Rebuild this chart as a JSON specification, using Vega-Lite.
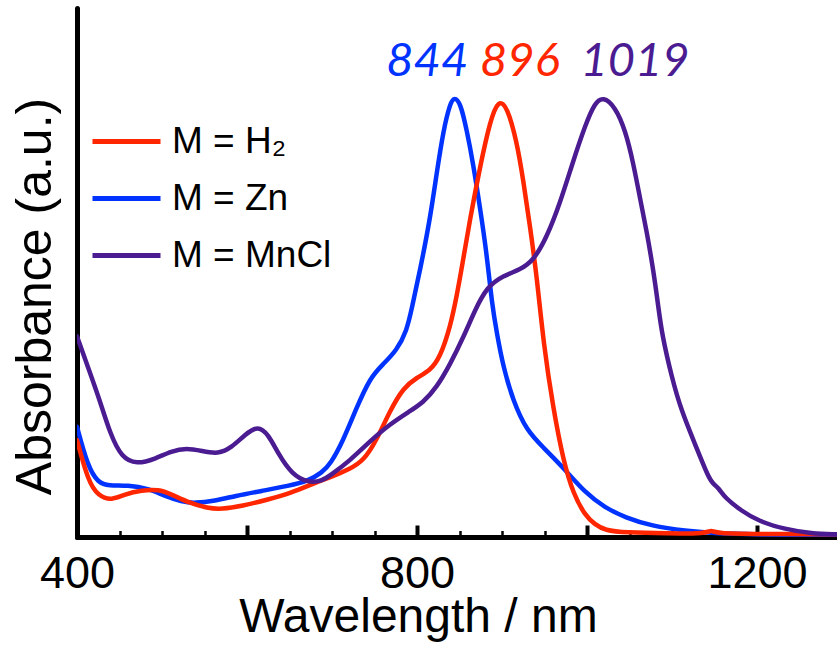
{
  "$schema": "https://vega.github.io/schema/vega-lite/v6.json",
  "width": 760,
  "height": 529,
  "autosize": "none",
  "padding": {"left": 77, "top": 8, "right": 0, "bottom": 108},
  "background": "white",
  "config": {
    "view": {"stroke": null},
    "font": "Liberation Sans"
  },
  "datasets": {
    "spectra": [
      {"series": "M = Zn", "nm": 400, "A": 0.25},
      {"series": "M = Zn", "nm": 413, "A": 0.158},
      {"series": "M = Zn", "nm": 425, "A": 0.123},
      {"series": "M = Zn", "nm": 437, "A": 0.116},
      {"series": "M = Zn", "nm": 460, "A": 0.1175},
      {"series": "M = Zn", "nm": 484, "A": 0.11},
      {"series": "M = Zn", "nm": 503, "A": 0.093},
      {"series": "M = Zn", "nm": 523, "A": 0.08},
      {"series": "M = Zn", "nm": 539, "A": 0.0765},
      {"series": "M = Zn", "nm": 562, "A": 0.082},
      {"series": "M = Zn", "nm": 586, "A": 0.093},
      {"series": "M = Zn", "nm": 617, "A": 0.1045},
      {"series": "M = Zn", "nm": 649, "A": 0.116},
      {"series": "M = Zn", "nm": 672, "A": 0.127},
      {"series": "M = Zn", "nm": 688, "A": 0.146},
      {"series": "M = Zn", "nm": 698, "A": 0.165},
      {"series": "M = Zn", "nm": 713, "A": 0.218},
      {"series": "M = Zn", "nm": 729, "A": 0.294},
      {"series": "M = Zn", "nm": 745, "A": 0.362},
      {"series": "M = Zn", "nm": 760, "A": 0.392},
      {"series": "M = Zn", "nm": 776, "A": 0.423},
      {"series": "M = Zn", "nm": 788, "A": 0.468},
      {"series": "M = Zn", "nm": 794, "A": 0.52},
      {"series": "M = Zn", "nm": 803.5, "A": 0.605},
      {"series": "M = Zn", "nm": 815, "A": 0.718},
      {"series": "M = Zn", "nm": 823, "A": 0.824},
      {"series": "M = Zn", "nm": 831, "A": 0.923},
      {"series": "M = Zn", "nm": 839, "A": 0.985},
      {"series": "M = Zn", "nm": 844, "A": 0.998},
      {"series": "M = Zn", "nm": 851, "A": 0.985},
      {"series": "M = Zn", "nm": 858.5, "A": 0.923},
      {"series": "M = Zn", "nm": 866, "A": 0.847},
      {"series": "M = Zn", "nm": 874, "A": 0.748},
      {"series": "M = Zn", "nm": 882, "A": 0.642},
      {"series": "M = Zn", "nm": 888, "A": 0.53},
      {"series": "M = Zn", "nm": 894, "A": 0.461},
      {"series": "M = Zn", "nm": 901.5, "A": 0.385},
      {"series": "M = Zn", "nm": 913, "A": 0.309},
      {"series": "M = Zn", "nm": 929, "A": 0.241},
      {"series": "M = Zn", "nm": 948.6, "A": 0.203},
      {"series": "M = Zn", "nm": 972, "A": 0.1575},
      {"series": "M = Zn", "nm": 998, "A": 0.1},
      {"series": "M = Zn", "nm": 1021, "A": 0.0667},
      {"series": "M = Zn", "nm": 1045, "A": 0.044},
      {"series": "M = Zn", "nm": 1076, "A": 0.025},
      {"series": "M = Zn", "nm": 1115, "A": 0.0136},
      {"series": "M = Zn", "nm": 1154, "A": 0.0076},
      {"series": "M = Zn", "nm": 1194, "A": 0.006},
      {"series": "M = Zn", "nm": 1294, "A": 0.004},

      {"series": "M = H₂", "nm": 400, "A": 0.22},
      {"series": "M = H₂", "nm": 413, "A": 0.127},
      {"series": "M = H₂", "nm": 425, "A": 0.093},
      {"series": "M = H₂", "nm": 441, "A": 0.083},
      {"series": "M = H₂", "nm": 456, "A": 0.097},
      {"series": "M = H₂", "nm": 476, "A": 0.106},
      {"series": "M = H₂", "nm": 496, "A": 0.108},
      {"series": "M = H₂", "nm": 511, "A": 0.097},
      {"series": "M = H₂", "nm": 531, "A": 0.078},
      {"series": "M = H₂", "nm": 554, "A": 0.065},
      {"series": "M = H₂", "nm": 570, "A": 0.063},
      {"series": "M = H₂", "nm": 594, "A": 0.07},
      {"series": "M = H₂", "nm": 625, "A": 0.085},
      {"series": "M = H₂", "nm": 652, "A": 0.1},
      {"series": "M = H₂", "nm": 680, "A": 0.123},
      {"series": "M = H₂", "nm": 698, "A": 0.135},
      {"series": "M = H₂", "nm": 721, "A": 0.154},
      {"series": "M = H₂", "nm": 737, "A": 0.173},
      {"series": "M = H₂", "nm": 752, "A": 0.218},
      {"series": "M = H₂", "nm": 768, "A": 0.286},
      {"series": "M = H₂", "nm": 784, "A": 0.339},
      {"series": "M = H₂", "nm": 800, "A": 0.362},
      {"series": "M = H₂", "nm": 815, "A": 0.377},
      {"series": "M = H₂", "nm": 827, "A": 0.407},
      {"series": "M = H₂", "nm": 839, "A": 0.476},
      {"series": "M = H₂", "nm": 847, "A": 0.55},
      {"series": "M = H₂", "nm": 853, "A": 0.615},
      {"series": "M = H₂", "nm": 862, "A": 0.718},
      {"series": "M = H₂", "nm": 874, "A": 0.839},
      {"series": "M = H₂", "nm": 886, "A": 0.945},
      {"series": "M = H₂", "nm": 896, "A": 0.993},
      {"series": "M = H₂", "nm": 906, "A": 0.976},
      {"series": "M = H₂", "nm": 917, "A": 0.9},
      {"series": "M = H₂", "nm": 925, "A": 0.809},
      {"series": "M = H₂", "nm": 933, "A": 0.703},
      {"series": "M = H₂", "nm": 941, "A": 0.589},
      {"series": "M = H₂", "nm": 949, "A": 0.435},
      {"series": "M = H₂", "nm": 960, "A": 0.294},
      {"series": "M = H₂", "nm": 972, "A": 0.173},
      {"series": "M = H₂", "nm": 984, "A": 0.097},
      {"series": "M = H₂", "nm": 998, "A": 0.048},
      {"series": "M = H₂", "nm": 1009, "A": 0.029},
      {"series": "M = H₂", "nm": 1021, "A": 0.015},
      {"series": "M = H₂", "nm": 1045, "A": 0.01},
      {"series": "M = H₂", "nm": 1095, "A": 0.008},
      {"series": "M = H₂", "nm": 1140, "A": 0.008},
      {"series": "M = H₂", "nm": 1146, "A": 0.016},
      {"series": "M = H₂", "nm": 1152, "A": 0.008},
      {"series": "M = H₂", "nm": 1200, "A": 0.007},
      {"series": "M = H₂", "nm": 1294, "A": 0.006},

      {"series": "M = MnCl", "nm": 400, "A": 0.455},
      {"series": "M = MnCl", "nm": 413, "A": 0.385},
      {"series": "M = MnCl", "nm": 427, "A": 0.309},
      {"series": "M = MnCl", "nm": 439, "A": 0.234},
      {"series": "M = MnCl", "nm": 452.5, "A": 0.18},
      {"series": "M = MnCl", "nm": 470, "A": 0.165},
      {"series": "M = MnCl", "nm": 492, "A": 0.177},
      {"series": "M = MnCl", "nm": 511, "A": 0.195},
      {"series": "M = MnCl", "nm": 529, "A": 0.2016},
      {"series": "M = MnCl", "nm": 547, "A": 0.195},
      {"series": "M = MnCl", "nm": 566, "A": 0.188},
      {"series": "M = MnCl", "nm": 582, "A": 0.203},
      {"series": "M = MnCl", "nm": 598, "A": 0.233},
      {"series": "M = MnCl", "nm": 613, "A": 0.253},
      {"series": "M = MnCl", "nm": 625, "A": 0.233},
      {"series": "M = MnCl", "nm": 637, "A": 0.188},
      {"series": "M = MnCl", "nm": 652.6, "A": 0.1425},
      {"series": "M = MnCl", "nm": 672, "A": 0.123},
      {"series": "M = MnCl", "nm": 688, "A": 0.127},
      {"series": "M = MnCl", "nm": 698, "A": 0.14},
      {"series": "M = MnCl", "nm": 721, "A": 0.173},
      {"series": "M = MnCl", "nm": 745, "A": 0.218},
      {"series": "M = MnCl", "nm": 768, "A": 0.256},
      {"series": "M = MnCl", "nm": 792, "A": 0.286},
      {"series": "M = MnCl", "nm": 807, "A": 0.305},
      {"series": "M = MnCl", "nm": 823, "A": 0.339},
      {"series": "M = MnCl", "nm": 839, "A": 0.392},
      {"series": "M = MnCl", "nm": 854.5, "A": 0.453},
      {"series": "M = MnCl", "nm": 868, "A": 0.514},
      {"series": "M = MnCl", "nm": 882, "A": 0.567},
      {"series": "M = MnCl", "nm": 901.5, "A": 0.593},
      {"series": "M = MnCl", "nm": 921, "A": 0.606},
      {"series": "M = MnCl", "nm": 937, "A": 0.627},
      {"series": "M = MnCl", "nm": 952.6, "A": 0.68},
      {"series": "M = MnCl", "nm": 968, "A": 0.756},
      {"series": "M = MnCl", "nm": 984, "A": 0.855},
      {"series": "M = MnCl", "nm": 998, "A": 0.935},
      {"series": "M = MnCl", "nm": 1009, "A": 0.985},
      {"series": "M = MnCl", "nm": 1019, "A": 0.999},
      {"series": "M = MnCl", "nm": 1033, "A": 0.976},
      {"series": "M = MnCl", "nm": 1045, "A": 0.923},
      {"series": "M = MnCl", "nm": 1054.5, "A": 0.847},
      {"series": "M = MnCl", "nm": 1062, "A": 0.771},
      {"series": "M = MnCl", "nm": 1070, "A": 0.695},
      {"series": "M = MnCl", "nm": 1078, "A": 0.605},
      {"series": "M = MnCl", "nm": 1084, "A": 0.52},
      {"series": "M = MnCl", "nm": 1088, "A": 0.461},
      {"series": "M = MnCl", "nm": 1099.6, "A": 0.362},
      {"series": "M = MnCl", "nm": 1111, "A": 0.286},
      {"series": "M = MnCl", "nm": 1127, "A": 0.211},
      {"series": "M = MnCl", "nm": 1142.7, "A": 0.135},
      {"series": "M = MnCl", "nm": 1148.6, "A": 0.12},
      {"series": "M = MnCl", "nm": 1154.5, "A": 0.112},
      {"series": "M = MnCl", "nm": 1162, "A": 0.089},
      {"series": "M = MnCl", "nm": 1182, "A": 0.059},
      {"series": "M = MnCl", "nm": 1201.5, "A": 0.036},
      {"series": "M = MnCl", "nm": 1233, "A": 0.0175},
      {"series": "M = MnCl", "nm": 1264, "A": 0.0076},
      {"series": "M = MnCl", "nm": 1294, "A": 0.006}
    ],
    "peaks": [
      {"series": "M = Zn", "label": "844", "nm": 812, "A": 1.046},
      {"series": "M = H₂", "label": "896", "nm": 921, "A": 1.046},
      {"series": "M = MnCl", "label": "1019", "nm": 1056.5, "A": 1.046}
    ]
  },
  "layer": [
    {
      "data": {"name": "spectra"},
      "mark": {"type": "line", "strokeWidth": 4.5, "interpolate": "basis", "clip": true, "strokeCap": "round"},
      "encoding": {
        "x": {
          "field": "nm", "type": "quantitative",
          "scale": {"domain": [400, 1294], "nice": false, "zero": false},
          "axis": {
            "values": [400, 450, 500, 550, 600, 650, 700, 750, 800, 850, 900, 950, 1000, 1050, 1100, 1150, 1200, 1250],
            "format": "d",
            "title": "Wavelength / nm",
            "titleFontSize": 48,
            "titleFont": "Liberation Sans",
            "titleFontWeight": "normal",
            "titleColor": "black",
            "titleX": 341,
            "titleY": 94,
            "titleAlign": "center",
            "titleBaseline": "alphabetic",
            "labelExpr": "datum.value % 400 === 0 ? datum.label : ''",
            "labelFontSize": 45,
            "labelFont": "Liberation Sans",
            "labelColor": "black",
            "labelBaseline": "alphabetic",
            "labelPadding": 62,
            "labelOverlap": false,
            "labelFlush": false,
            "grid": false,
            "domainColor": "black",
            "domainWidth": 5,
            "domainCap": "round",
            "tickColor": "black",
            "tickSize": {"condition": {"test": "datum.value % 200 === 0", "value": -12}, "value": -6.5},
            "tickWidth": {"condition": {"test": "datum.value % 200 === 0", "value": 4}, "value": 2.5}
          }
        },
        "y": {
          "field": "A", "type": "quantitative",
          "scale": {"domain": [0, 1.2], "nice": false},
          "axis": {
            "title": "Absorbance (a.u.)",
            "titleFontSize": 50,
            "titleFont": "Liberation Sans",
            "titleFontWeight": "normal",
            "titleColor": "black",
            "titleAngle": -90,
            "titleX": -27,
            "titleY": 288,
            "titleAlign": "center",
            "titleBaseline": "alphabetic",
            "labels": false,
            "ticks": false,
            "grid": false,
            "domainColor": "black",
            "domainWidth": 5,
            "domainCap": "round"
          }
        },
        "color": {
          "field": "series", "type": "nominal",
          "scale": {"domain": ["M = H₂", "M = Zn", "M = MnCl"], "range": ["#ff2600", "#0033ff", "#4b1c91"]},
          "legend": {
            "title": null,
            "orient": "none",
            "legendX": 13,
            "legendY": 97,
            "padding": 0,
            "symbolType": "stroke",
            "symbolSize": 4624,
            "symbolStrokeWidth": 5,
            "symbolOpacity": 1,
            "labelFontSize": 37,
            "labelFont": "Liberation Sans",
            "labelColor": "black",
            "labelOffset": 9,
            "labelLimit": 400,
            "rowPadding": 2
          }
        }
      }
    },
    {
      "data": {"name": "peaks"},
      "mark": {"type": "text", "font": "Lato", "fontStyle": "italic", "fontSize": 47, "align": "center", "baseline": "alphabetic"},
      "encoding": {
        "x": {"field": "nm", "type": "quantitative"},
        "y": {"field": "A", "type": "quantitative"},
        "text": {"field": "label"},
        "color": {"field": "series", "type": "nominal"}
      }
    }
  ]
}
